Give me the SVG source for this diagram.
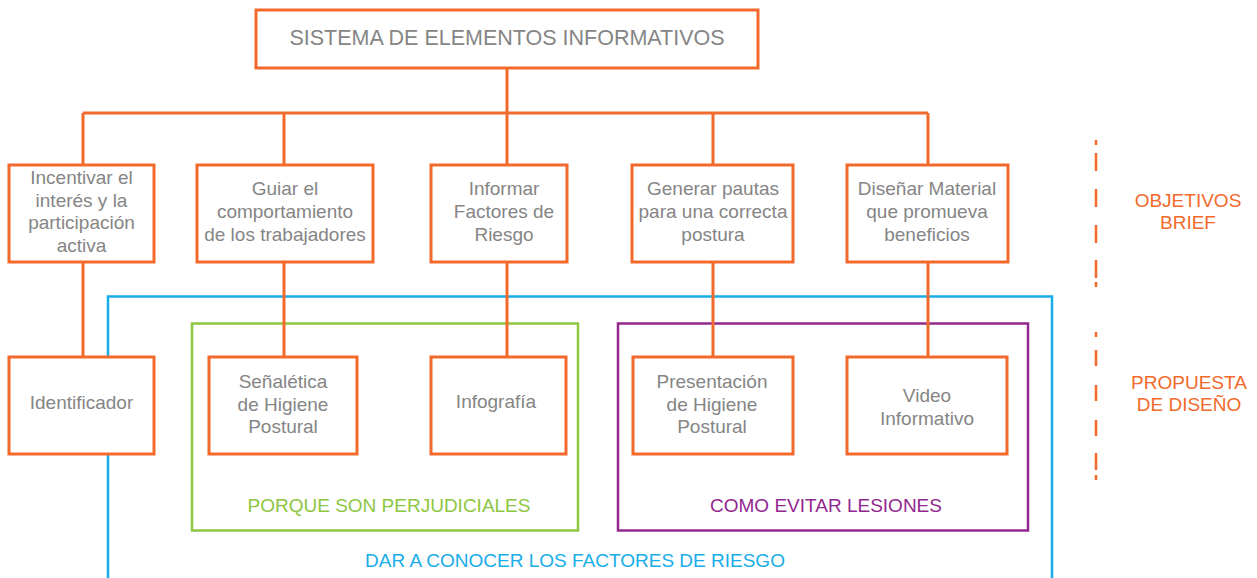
<svg xmlns="http://www.w3.org/2000/svg" width="1257" height="578" viewBox="0 0 1257 578">
<style>
.box{fill:#fff;stroke:#F26A2B;stroke-width:3}
.con{fill:none;stroke:#F26A2B;stroke-width:3}
.t{font-family:"Liberation Sans",Arial,sans-serif;font-size:19px;fill:#858585;text-anchor:middle}
.lbl{font-family:"Liberation Sans",Arial,sans-serif;font-size:19px;text-anchor:middle}
</style>
<rect width="1257" height="578" fill="#fff"/>
<g id="groups">
<path id="grp-blue" d="M108 580V296.5H1052V580" fill="none" stroke="#17ADE8" stroke-width="2.5"/>
<rect id="grp-green" x="192" y="323.5" width="386" height="207" fill="none" stroke="#8DC63F" stroke-width="2.5"/>
<rect id="grp-purple" x="618" y="323.5" width="410" height="207" fill="none" stroke="#92278F" stroke-width="2.5"/>
<text class="lbl" x="389" y="512" fill="#8DC63F">PORQUE SON PERJUDICIALES</text>
<text class="lbl" x="826" y="512" fill="#92278F">COMO EVITAR LESIONES</text>
<text class="lbl" x="575" y="567" fill="#17ADE8">DAR A CONOCER LOS FACTORES DE RIESGO</text>
</g>
<g id="connectors">
<path class="con" d="M507 68V113M83 113H928M83 113V165M284 113V165M507 113V165M713 113V165M928 113V165"/>
<path class="con" d="M83 262V357M284 262V357M507 262V357M713 262V357M928 262V357"/>
</g>
<g id="n-title"><rect class="box" x="256" y="10" width="502" height="58"/><text class="t" x="507" y="45" style="font-size:21.5px">SISTEMA DE ELEMENTOS INFORMATIVOS</text></g>
<g id="n-o1"><rect class="box" x="9" y="165" width="145" height="97"/><text class="t" x="81.5" y="184">Incentivar el<tspan x="81.5" dy="22.7">interés y la</tspan><tspan x="81.5" dy="22.7">participación</tspan><tspan x="81.5" dy="22.7">activa</tspan></text></g>
<g id="n-o2"><rect class="box" x="197" y="165" width="176" height="97"/><text class="t" x="285" y="195">Guiar el<tspan x="285" dy="23">comportamiento</tspan><tspan x="285" dy="23">de los trabajadores</tspan></text></g>
<g id="n-o3"><rect class="box" x="431" y="165" width="136" height="97"/><text class="t" x="504" y="195">Informar<tspan x="504" dy="23">Factores de</tspan><tspan x="504" dy="23">Riesgo</tspan></text></g>
<g id="n-o4"><rect class="box" x="632" y="165" width="161" height="97"/><text class="t" x="713" y="195">Generar pautas<tspan x="713" dy="23">para una correcta</tspan><tspan x="713" dy="23">postura</tspan></text></g>
<g id="n-o5"><rect class="box" x="847" y="165" width="161" height="97"/><text class="t" x="927" y="195">Diseñar Material<tspan x="927" dy="23">que promueva</tspan><tspan x="927" dy="23">beneficios</tspan></text></g>
<g id="n-p1"><rect class="box" x="9" y="357" width="145" height="97"/><text class="t" x="81.5" y="409">Identificador</text></g>
<g id="n-p2"><rect class="box" x="209" y="357" width="148" height="97"/><text class="t" x="283" y="388">Señalética<tspan x="283" dy="22.5">de Higiene</tspan><tspan x="283" dy="22.5">Postural</tspan></text></g>
<g id="n-p3"><rect class="box" x="431" y="357" width="135" height="97"/><text class="t" x="496" y="408">Infografía</text></g>
<g id="n-p4"><rect class="box" x="633" y="357" width="160" height="97"/><text class="t" x="712" y="388">Presentación<tspan x="712" dy="22.5">de Higiene</tspan><tspan x="712" dy="22.5">Postural</tspan></text></g>
<g id="n-p5"><rect class="box" x="847" y="357" width="160" height="97"/><text class="t" x="927" y="402">Video<tspan x="927" dy="23">Informativo</tspan></text></g>
<g id="side">
<path d="M1096 140V145M1096 153V171M1096 189V207M1096 225V243M1096 260V278M1096 282V287" fill="none" stroke="#F26A2B" stroke-width="2.5"/>
<path d="M1096 332V337M1096 350V366M1096 385V401M1096 420V436M1096 453V470M1096 475V480" fill="none" stroke="#F26A2B" stroke-width="2.5"/>
<text class="lbl" x="1188" y="207" fill="#F26A2B">OBJETIVOS<tspan x="1188" dy="22">BRIEF</tspan></text>
<text class="lbl" x="1189" y="389" fill="#F26A2B">PROPUESTA<tspan x="1189" dy="22">DE DISEÑO</tspan></text>
</g>
</svg>
